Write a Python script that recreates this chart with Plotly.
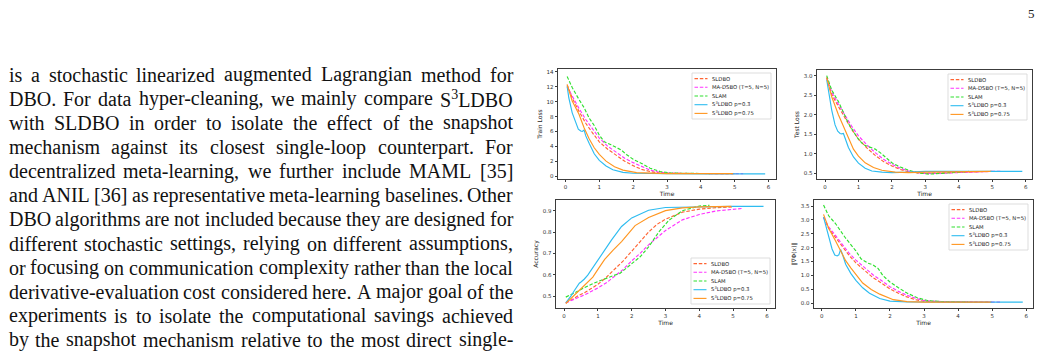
import plotly.graph_objects as go

FIG_W, FIG_H = 1041, 352

# ------------------------------------------------------------------ data
names = ["SLDBO", "MA-DSBO (T=5, N=5)", "SLAM", "S<sup>3</sup>LDBO p=0.3", "S<sup>3</sup>LDBO p=0.75"]
colors = ["#ff6433", "#ff33ff", "#2fe02f", "#2ebcf0", "#ff9620"]
dashes = ["3.5px,1.8px", "3.5px,1.8px", "3.5px,1.8px", "solid", "solid"]

t_sldbo = [0.05, 0.2, 0.4, 0.6, 0.8, 1.0, 1.25, 1.5, 1.75, 2.0, 2.25, 2.5, 2.75, 3.0, 3.5, 4.0, 4.5, 5.0]
t_madsbo = [0.05, 0.2, 0.4, 0.6, 0.8, 1.0, 1.25, 1.5, 1.75, 2.0, 2.25, 2.5, 2.75, 3.0, 3.5, 4.0, 4.5, 5.0, 5.25]
t_slam = [0.05, 0.2, 0.4, 0.55, 0.7, 0.85, 1.0, 1.15, 1.35, 1.5, 1.65, 1.8, 2.0, 2.25, 2.5, 2.8, 3.1, 3.5, 4.0, 4.3]
t_p03 = [0.05, 0.1, 0.2, 0.3, 0.38, 0.45, 0.5, 0.55, 0.6, 0.7, 0.85, 1.0, 1.2, 1.4, 1.7, 2.0, 2.5, 3.0, 4.0, 5.0, 5.9]
t_p075 = [0.05, 0.2, 0.4, 0.55, 0.7, 0.85, 1.0, 1.2, 1.45, 1.7, 2.1, 2.5, 3.0, 3.5, 4.0, 4.95]

# Train loss
train_sldbo = [12.3, 10.5, 8.7, 7.1, 5.8, 4.6, 3.6, 2.8, 2.0, 1.4, 0.9, 0.6, 0.42, 0.36, 0.33, 0.32, 0.32, 0.32]
train_madsbo = [12.0, 10.7, 9.1, 7.6, 6.3, 5.1, 4.0, 3.2, 2.4, 1.8, 1.25, 0.8, 0.52, 0.4, 0.34, 0.32, 0.32, 0.32, 0.32]
train_slam = [13.4, 11.9, 10.3, 9.2, 7.8, 6.8, 5.5, 4.6, 4.2, 3.9, 3.5, 2.9, 2.25, 1.7, 1.05, 0.6, 0.42, 0.36, 0.34, 0.33]
train_p03 = [12.1, 10.5, 8.5, 7.1, 6.3, 6.05, 6.0, 6.2, 5.4, 4.4, 3.0, 2.1, 1.35, 0.85, 0.5, 0.37, 0.32, 0.31, 0.3, 0.3, 0.3]
train_p075 = [12.3, 10.1, 8.3, 6.5, 5.0, 3.8, 2.9, 2.0, 1.25, 0.8, 0.45, 0.36, 0.33, 0.32, 0.32, 0.32]

# Test loss
test_sldbo = [2.95, 2.52, 2.21, 1.91, 1.62, 1.38, 1.15, 0.96, 0.8, 0.69, 0.6, 0.54, 0.51, 0.5, 0.51, 0.53, 0.54, 0.55]
test_madsbo = [2.95, 2.58, 2.27, 1.98, 1.70, 1.46, 1.23, 1.03, 0.86, 0.73, 0.63, 0.56, 0.52, 0.5, 0.5, 0.52, 0.54, 0.55, 0.55]
test_slam = [3.0, 2.63, 2.34, 2.05, 1.78, 1.57, 1.37, 1.23, 1.16, 1.12, 1.03, 0.92, 0.77, 0.66, 0.58, 0.51, 0.48, 0.5, 0.54, 0.55]
test_p03 = [2.9, 2.63, 2.12, 1.74, 1.58, 1.52, 1.51, 1.52, 1.38, 1.16, 0.92, 0.76, 0.63, 0.56, 0.53, 0.52, 0.53, 0.55, 0.55, 0.55, 0.55]
test_p075 = [2.95, 2.46, 2.0, 1.7, 1.38, 1.12, 0.94, 0.77, 0.65, 0.58, 0.53, 0.52, 0.53, 0.54, 0.55, 0.55]

# Accuracy
acc_sldbo = [0.468, 0.48, 0.5, 0.515, 0.535, 0.555, 0.588, 0.628, 0.665, 0.71, 0.755, 0.8, 0.836, 0.86, 0.893, 0.907, 0.914, 0.918]
acc_madsbo = [0.468, 0.477, 0.492, 0.505, 0.52, 0.538, 0.562, 0.594, 0.625, 0.665, 0.7, 0.74, 0.775, 0.807, 0.857, 0.882, 0.899, 0.907, 0.91]
acc_slam = [0.495, 0.505, 0.522, 0.535, 0.548, 0.558, 0.568, 0.578, 0.59, 0.598, 0.606, 0.625, 0.65, 0.684, 0.73, 0.8, 0.855, 0.9, 0.922, 0.925]
acc_p03 = [0.468, 0.478, 0.5, 0.525, 0.546, 0.56, 0.566, 0.572, 0.58, 0.598, 0.635, 0.668, 0.715, 0.762, 0.826, 0.866, 0.902, 0.915, 0.919, 0.92, 0.92]
acc_p075 = [0.465, 0.488, 0.517, 0.54, 0.565, 0.589, 0.625, 0.672, 0.715, 0.755, 0.83, 0.868, 0.9, 0.913, 0.918, 0.92]

# Hypergradient norm
grad_sldbo = [3.1, 2.7, 2.37, 2.03, 1.72, 1.45, 1.17, 0.92, 0.72, 0.51, 0.35, 0.22, 0.12, 0.06, 0.04, 0.03, 0.03, 0.03]
grad_madsbo = [3.1, 2.75, 2.44, 2.1, 1.8, 1.55, 1.27, 1.02, 0.81, 0.59, 0.42, 0.28, 0.17, 0.09, 0.05, 0.04, 0.03, 0.03, 0.03]
grad_slam = [3.54, 3.15, 2.87, 2.6, 2.34, 2.11, 1.88, 1.6, 1.44, 1.38, 1.25, 0.98, 0.76, 0.55, 0.36, 0.19, 0.09, 0.05, 0.03, 0.03]
grad_p03 = [3.1, 2.85, 2.35, 1.95, 1.73, 1.70, 1.74, 1.93, 1.78, 1.40, 1.07, 0.82, 0.55, 0.35, 0.16, 0.07, 0.04, 0.03, 0.03, 0.03, 0.03]
grad_p075 = [3.2, 2.7, 2.25, 1.9, 1.53, 1.27, 1.04, 0.72, 0.49, 0.32, 0.12, 0.05, 0.03, 0.03, 0.03, 0.03]

x_ticks = [0, 1, 2, 3, 4, 5, 6]
train_ticks = [0, 2, 4, 6, 8, 10, 12, 14]
test_ticks = [0.5, 1.0, 1.5, 2.0, 2.5, 3.0]
acc_ticks = [0.5, 0.6, 0.7, 0.8, 0.9]
grad_ticks = [0.0, 0.5, 1.0, 1.5, 2.0, 2.5, 3.0, 3.5]

text_lines = [
    "is a stochastic linearized augmented Lagrangian method for",
    "DBO. For data hyper-cleaning, we mainly compare S<sup>3</sup>LDBO",
    "with SLDBO in order to isolate the effect of the snapshot",
    "mechanism against its closest single-loop counterpart. For",
    "decentralized meta-learning, we further include MAML [35]",
    "and ANIL [36] as representative meta-learning baselines. Other",
    "DBO algorithms are not included because they are designed for",
    "different stochastic settings, relying on different assumptions,",
    "or focusing on communication complexity rather than the local",
    "derivative-evaluation cost considered here. A major goal of the",
    "experiments is to isolate the computational savings achieved",
    "by the snapshot mechanism relative to the most direct single-",
]
page_number = "5"

# ------------------------------------------------------------------ helpers
def px_x(p):
    return p / FIG_W


def px_y(p):
    return 1 - p / FIG_H


panels = [
    dict(ax="x", ay="y", box=(558, 69, 776, 179), xr=[-0.22, 6.22], yr=[-0.4, 14.4],
         yt=train_ticks, fmt="{:g}", ytitle="Train Loss", leg="top",
         ys=[train_sldbo, train_madsbo, train_slam, train_p03, train_p075]),
    dict(ax="x2", ay="y2", box=(817, 70, 1032, 179), xr=[-0.24, 6.19], yr=[0.355, 3.145],
         yt=test_ticks, fmt="{:.1f}", ytitle="Test Loss", leg="top",
         ys=[test_sldbo, test_madsbo, test_slam, test_p03, test_p075]),
    dict(ax="x3", ay="y3", box=(556, 200, 775, 308), xr=[-0.24, 6.24], yr=[0.444, 0.95],
         yt=acc_ticks, fmt="{:.1f}", ytitle="Accuracy", leg="bottom",
         ys=[acc_sldbo, acc_madsbo, acc_slam, acc_p03, acc_p075]),
    dict(ax="x4", ay="y4", box=(814, 200, 1033, 308), xr=[-0.23, 6.2], yr=[-0.18, 3.72],
         yt=grad_ticks, fmt="{:.1f}", ytitle="‖∇Φ(x)‖", leg="top",
         ys=[grad_sldbo, grad_madsbo, grad_slam, grad_p03, grad_p075]),
]
times = [t_sldbo, t_madsbo, t_slam, t_p03, t_p075]

AXCOL = "#3c3c3c"


def tick_font():
    return dict(family="DejaVu Sans", size=5.5, color="#333333")


def title_font():
    return dict(family="DejaVu Sans", size=6, color="#222222")


fig = go.Figure()
layout = dict(
    template="none",
    width=FIG_W, height=FIG_H, margin=dict(l=0, r=0, t=0, b=0, pad=0),
    paper_bgcolor="white", plot_bgcolor="white", showlegend=False,
    font=dict(family="DejaVu Sans", color="#222222"),
)
shapes = []
annotations = []

for p in panels:
    l, t, r, b = p["box"]
    xa = "xaxis" + p["ax"][1:]
    ya = "yaxis" + p["ay"][1:]
    layout[xa] = dict(
        domain=[px_x(l), px_x(r)], range=p["xr"], anchor=p["ay"],
        tickmode="array", tickvals=x_ticks, ticktext=[str(v) for v in x_ticks],
        showline=True, mirror=True, linecolor=AXCOL, linewidth=0.8,
        ticks="outside", ticklen=2.5, tickwidth=0.7, tickcolor=AXCOL,
        tickfont=tick_font(), showgrid=False, zeroline=False, automargin=False,
        title=dict(text="Time", font=title_font(), standoff=2),
    )
    layout[ya] = dict(
        domain=[px_y(b), px_y(t)], range=p["yr"], anchor=p["ax"],
        tickmode="array", tickvals=p["yt"], ticktext=[p["fmt"].format(v) for v in p["yt"]],
        showline=True, mirror=True, linecolor=AXCOL, linewidth=0.8,
        ticks="outside", ticklen=2.5, tickwidth=0.7, tickcolor=AXCOL,
        tickfont=tick_font(), showgrid=False, zeroline=False, automargin=False,
        title=dict(text=p["ytitle"], font=title_font(), standoff=3),
    )
    for i in range(5):
        fig.add_trace(go.Scatter(
            x=times[i], y=p["ys"][i], mode="lines", name=names[i],
            line=dict(color=colors[i], width=1.15, dash=dashes[i]),
            xaxis=p["ax"], yaxis=p["ay"], showlegend=False,
        ))
    # legend box (matplotlib style)
    lw, lh = 79, 46
    lr = r - 5
    lt = t + 4 if p["leg"] == "top" else b - 4 - lh
    ll = lr - lw
    shapes.append(dict(type="rect", xref="paper", yref="paper",
                       x0=px_x(ll), x1=px_x(lr), y0=px_y(lt + lh), y1=px_y(lt),
                       line=dict(color="#d4d4d4", width=0.8), fillcolor="rgba(255,255,255,0.85)",
                       layer="above"))
    for i in range(5):
        cy = lt + 5.6 + 8.7 * i
        shapes.append(dict(type="line", xref="paper", yref="paper",
                           x0=px_x(ll + 2.5), x1=px_x(ll + 15.5), y0=px_y(cy), y1=px_y(cy),
                           line=dict(color=colors[i], width=1.1, dash=dashes[i]), layer="above"))
        annotations.append(dict(xref="paper", yref="paper", x=px_x(ll + 18.5), y=px_y(cy),
                                xanchor="left", yanchor="middle", text=names[i], showarrow=False,
                                font=dict(family="DejaVu Sans", size=5.3, color="#222222"),
                                borderpad=0))

# ------------------------------------------------------------------ justified body text
TW = {' ': 250, 'a': 444, 'b': 500, 'c': 444, 'd': 500, 'e': 444, 'f': 333, 'g': 500, 'h': 500,
      'i': 278, 'j': 278, 'k': 500, 'l': 278, 'm': 778, 'n': 500, 'o': 500, 'p': 500, 'q': 500,
      'r': 333, 's': 389, 't': 278, 'u': 500, 'v': 500, 'w': 722, 'x': 500, 'y': 500, 'z': 444,
      'A': 722, 'B': 667, 'C': 667, 'D': 722, 'E': 611, 'F': 556, 'G': 722, 'H': 722, 'I': 333,
      'J': 389, 'K': 722, 'L': 611, 'M': 889, 'N': 722, 'O': 722, 'P': 556, 'Q': 722, 'R': 667,
      'S': 556, 'T': 611, 'U': 722, 'V': 722, 'W': 944, 'X': 722, 'Y': 722, 'Z': 611,
      '.': 250, ',': 250, '-': 333, '[': 333, ']': 333}
for d in "0123456789":
    TW[d] = 500

BODY_FS = 20
X_LEFT, X_RIGHT = 7.5, 512.0
LINE0, LINE_GAP = 74.8, 24.1


def word_width(w):
    sup = 0
    if "<sup>" in w:
        a, rest = w.split("<sup>")
        s, c = rest.split("</sup>")
        sup = sum(TW.get(ch, 500) for ch in s) * 0.7
        w = a + c
    return (sum(TW.get(ch, 500) for ch in w) + sup) / 1000 * BODY_FS


for li, line in enumerate(text_lines):
    words = line.split(" ")
    widths = [word_width(w) for w in words]
    gap = (X_RIGHT - X_LEFT - sum(widths)) / (len(words) - 1)
    x = X_LEFT
    cy = LINE0 + LINE_GAP * li
    for w, wd in zip(words, widths):
        annotations.append(dict(xref="paper", yref="paper", x=px_x(x), y=px_y(cy),
                                xanchor="left", yanchor="middle", text=w, showarrow=False,
                                font=dict(family="Liberation Serif", size=BODY_FS, color="#111111"),
                                borderpad=0))
        x += wd + gap

annotations.append(dict(xref="paper", yref="paper", x=px_x(1031), y=px_y(13),
                        xanchor="center", yanchor="middle", text=page_number, showarrow=False,
                        font=dict(family="Liberation Serif", size=13, color="#222222"), borderpad=0))

layout["shapes"] = shapes
layout["annotations"] = annotations
fig.update_layout(**layout)
fig.write_html("out.html")
